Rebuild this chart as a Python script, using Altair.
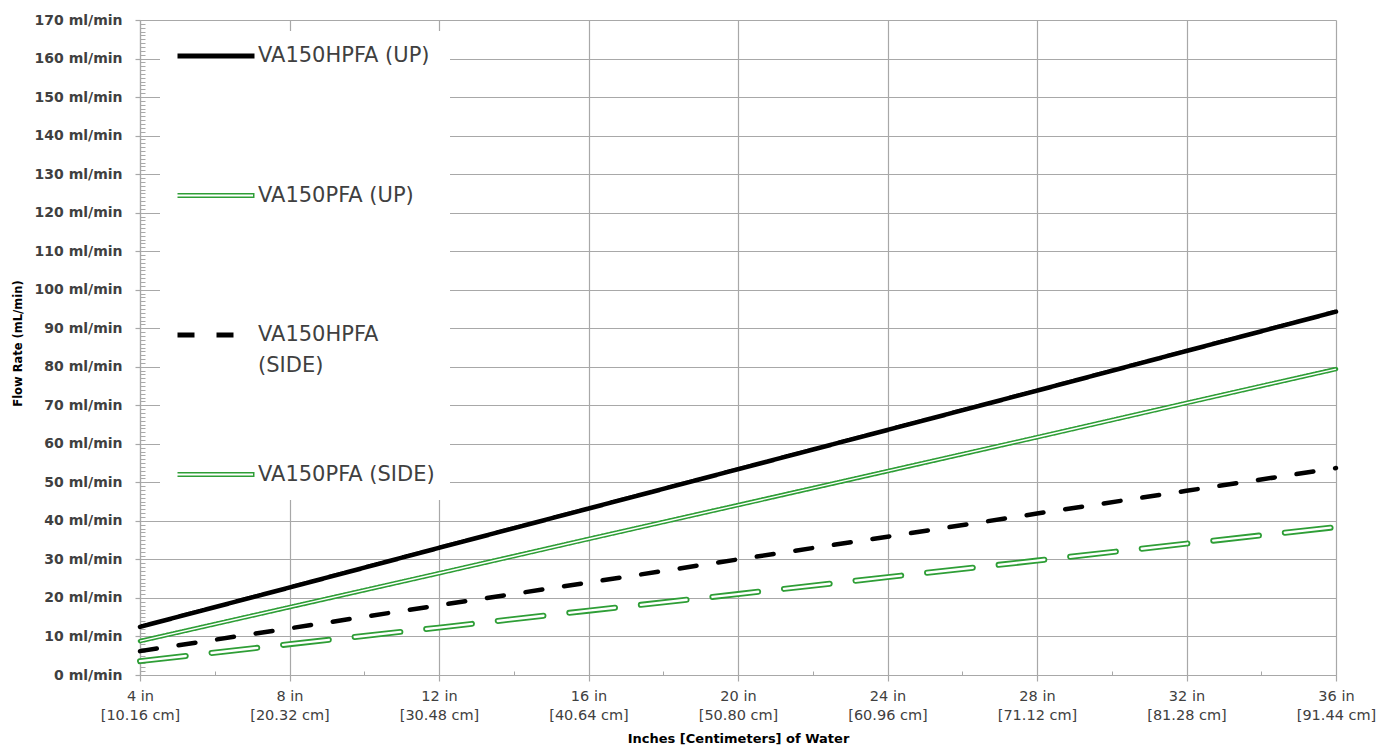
import altair as alt
import pandas as pd

# ---------------- data ----------------
inches = [4, 8, 12, 16, 20, 24, 28, 32, 36]
x_tick_inch_labels = ["4 in", "8 in", "12 in", "16 in", "20 in", "24 in", "28 in", "32 in", "36 in"]
x_tick_cm_labels = ["[10.16 cm]", "[20.32 cm]", "[30.48 cm]", "[40.64 cm]", "[50.80 cm]",
                    "[60.96 cm]", "[71.12 cm]", "[81.28 cm]", "[91.44 cm]"]
x_minor_ticks = [4, 6, 8, 10, 12, 14, 16, 18, 20, 22, 24, 26, 28, 30, 32, 34, 36]

y_ticks = [0, 10, 20, 30, 40, 50, 60, 70, 80, 90, 100, 110, 120, 130, 140, 150, 160, 170]
y_tick_labels = ["0 ml/min", "10 ml/min", "20 ml/min", "30 ml/min", "40 ml/min", "50 ml/min",
                 "60 ml/min", "70 ml/min", "80 ml/min", "90 ml/min", "100 ml/min", "110 ml/min",
                 "120 ml/min", "130 ml/min", "140 ml/min", "150 ml/min", "160 ml/min", "170 ml/min"]
y_minor_ticks = list(range(0, 171))

series = ["VA150HPFA (UP)", "VA150PFA (UP)", "VA150HPFA (SIDE)", "VA150PFA (SIDE)"]
hpfa_up = [12.5, 22.7, 33.0, 43.2, 53.4, 63.6, 73.8, 84.1, 94.3]
pfa_up = [8.8, 17.6, 26.4, 35.3, 44.1, 52.9, 61.7, 70.6, 79.4]
hpfa_side = [6.2, 12.1, 18.1, 24.0, 30.0, 35.9, 41.9, 47.8, 53.7]
pfa_side = [3.6, 8.0, 12.3, 16.7, 21.0, 25.4, 29.7, 34.1, 38.4]

title_text = "Aqua-V PFA Series Flow Rates vs. Inches [Centimeters] of Water"

GREEN = "#2e9e36"
GRID = "#a8a8a8"
LABEL = "#404040"

rows = []
for name, vals in zip(series, [hpfa_up, pfa_up, hpfa_side, pfa_side]):
    for x, v in zip(inches, vals):
        rows.append({"inches": x, "flow": v, "series": name, "inner": name + " "})
df = pd.DataFrame(rows)

# ---------------- label expressions ----------------
x_label_expr = " : ".join(
    f"datum.value == {v} ? ['{a}', '{b}']" for v, a, b in zip(inches, x_tick_inch_labels, x_tick_cm_labels)
) + " : ''"
y_label_expr = " : ".join(
    f"datum.value == {v} ? '{t}'" for v, t in zip(y_ticks, y_tick_labels)
) + " : ''"
legend_label_expr = "trim(datum.label) == 'VA150HPFA (SIDE)' ? ['VA150HPFA', '(SIDE)'] : trim(datum.label)"
legend_blank_expr = "trim(datum.label) == 'VA150HPFA (SIDE)' ? [' ', ' '] : ' '"

# ---------------- scales ----------------
xscale = alt.Scale(domain=[4, 36], nice=False, zero=False)
yscale = alt.Scale(domain=[0, 170], nice=False, zero=True)
color_scale = alt.Scale(domain=series, range=["#000000", GREEN, "#000000", GREEN])
dash_scale = alt.Scale(domain=series, range=[[1, 0], [1, 0], [17, 22], [1, 0]])
inner_scale = alt.Scale(domain=[s + " " for s in series],
                        range=["transparent", "white", "transparent", "white"])

# ---------------- axes ----------------
main_x_axis = alt.Axis(
    orient="bottom", values=inches, labelExpr=x_label_expr, labelFont="DejaVu Sans",
    labelFontSize=14.5, labelColor=LABEL, labelLineHeight=19, labelBaseline="top",
    labelPadding=8, labelFlush=False, labelOverlap=False, tickSize=6, tickColor=GRID,
    domainColor=GRID, gridColor=GRID, gridWidth=1.2, domainWidth=1.2, tickWidth=1.2, grid=True,
    title="Inches [Centimeters] of Water", titleFont="DejaVu Sans", titleFontSize=13,
    titleFontWeight="bold", titleColor="#000000", titleX=598, titleY=63.5,
    titleBaseline="middle", titleAlign="center")
main_y_axis = alt.Axis(
    orient="left", values=y_ticks, labelExpr=y_label_expr, labelFont="DejaVu Sans",
    labelFontSize=14, labelFontWeight="bold", labelColor=LABEL, labelPadding=13,
    labelOverlap=False, tickSize=5, tickColor=GRID, domainColor=GRID, gridColor=GRID,
    gridWidth=1.2, domainWidth=1.2, tickWidth=1.2, grid=True,
    title="Flow Rate (mL/min)", titleFont="DejaVu Sans", titleFontSize=11.5,
    titleFontWeight="bold", titleColor="#000000", titleX=-122, titleY=323,
    titleAngle=270, titleBaseline="middle", titleAlign="center")
minor_x_axis = alt.Axis(orient="bottom", values=x_minor_ticks, labels=False, domain=False,
                        grid=False, tickSize=4, offset=-4, tickColor=GRID, tickWidth=1,
                        title=None)
minor_y_axis = alt.Axis(orient="left", values=y_minor_ticks, labels=False, domain=False,
                        grid=False, tickSize=5, offset=-5, tickColor=GRID, tickWidth=1,
                        title=None)

# ---------------- legends ----------------
legend_common = dict(
    title=None, orient="none", legendX=20, legendY=11, direction="vertical",
    symbolType="stroke", symbolSize=5929, labelFont="DejaVu Sans", labelFontSize=21,
    labelColor=LABEL, labelOffset=1, labelLimit=400,
    padding=15, rowPadding=87.5, gridAlign="all", clipHeight=20)
legend_a = alt.Legend(symbolStrokeWidth=5, fillColor="white", labelExpr=legend_label_expr,
                      **legend_common)
legend_b = alt.Legend(symbolStrokeWidth=2, labelOpacity=0, labelExpr=legend_blank_expr,
                      **legend_common)

base = alt.Chart(df)

main_lines = base.transform_filter(alt.datum.series != "VA150PFA (SIDE)").mark_line(
    strokeWidth=4.5, strokeCap="round"
).encode(
    x=alt.X("inches:Q", scale=xscale, axis=main_x_axis),
    y=alt.Y("flow:Q", scale=yscale, axis=main_y_axis),
    color=alt.Color("series:N", scale=color_scale, legend=legend_a),
    strokeDash=alt.StrokeDash("series:N", scale=dash_scale, legend=legend_a),
)

green_up_inner = base.transform_filter(alt.datum.series == "VA150PFA (UP)").mark_line(
    strokeWidth=1.4
).encode(
    x=alt.X("inches:Q", scale=xscale, axis=minor_x_axis),
    y=alt.Y("flow:Q", scale=yscale, axis=minor_y_axis),
    stroke=alt.Stroke("inner:N", scale=inner_scale, legend=legend_b),
)

green_side_outer = base.transform_filter(alt.datum.series == "VA150PFA (SIDE)").mark_line(
    strokeWidth=6, strokeCap="round", strokeDash=[46, 26]
).encode(
    x=alt.X("inches:Q", scale=xscale, axis=None),
    y=alt.Y("flow:Q", scale=yscale, axis=None),
    color=alt.Color("series:N", scale=color_scale, legend=legend_a),
)

green_side_inner = base.transform_filter(alt.datum.series == "VA150PFA (SIDE)").mark_line(
    strokeWidth=2.4, strokeCap="round", strokeDash=[46, 26]
).encode(
    x=alt.X("inches:Q", scale=xscale, axis=None),
    y=alt.Y("flow:Q", scale=yscale, axis=None),
    stroke=alt.Stroke("inner:N", scale=inner_scale, legend=legend_b),
)

chart = alt.layer(
    main_lines, green_up_inner, green_side_outer, green_side_inner
).resolve_axis(
    x="independent", y="independent"
).properties(
    width=1196, height=655,
    autosize=alt.AutoSizeParams(type="none"),
    padding={"left": 132, "top": 12, "right": 42, "bottom": 73},
    title=alt.Title(text=title_text, font="DejaVu Sans", fontSize=21, fontWeight="normal",
                    color=LABEL, anchor="middle", dx=-26, offset=0, baseline="alphabetic",
                    frame="group"),
).configure(
    style={"guide-label": {"lineHeight": 31}}
).configure_view(strokeOpacity=0)

chart.save("out.html", embed_options={"renderer": "svg", "actions": False})
